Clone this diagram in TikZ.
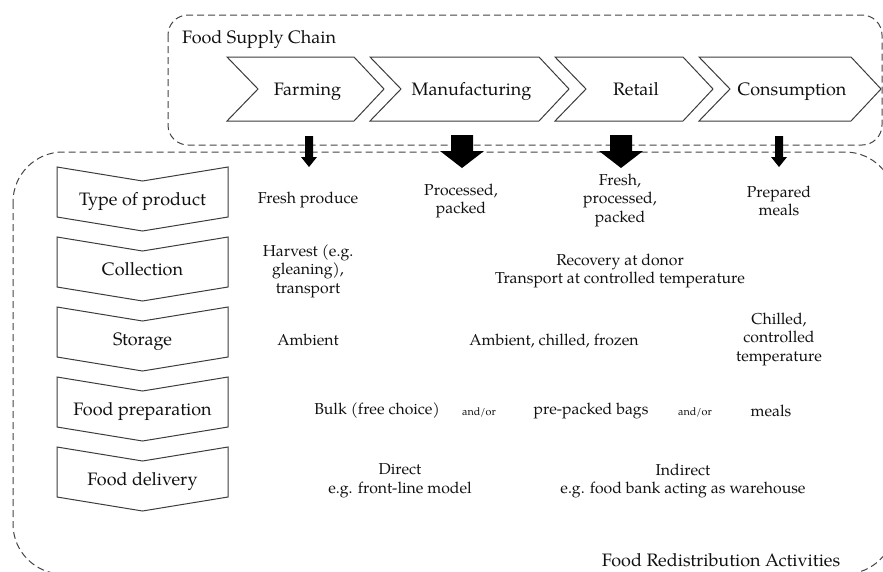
\documentclass[tikz,border=0pt]{standalone}
\usepackage{fontspec}
\setmainfont{texgyrepagella}[Extension=.otf,UprightFont=*-regular,BoldFont=*-bold,ItalicFont=*-italic,BoldItalicFont=*-bolditalic]
\definecolor{txt}{HTML}{111111}
\definecolor{lgray}{HTML}{3C3C3C}
\definecolor{dgray}{HTML}{444444}
\tikzset{
  lbl/.style={font=\fontsize{18}{19}\selectfont, align=center, text=txt, inner sep=0pt, text height=12.4pt, text depth=0pt},
  cell/.style={font=\fontsize{15.8}{18.5}\selectfont, align=center, text=txt, inner sep=0pt},
  tiny/.style={font=\fontsize{10.8}{12}\selectfont, text=txt, inner sep=0pt},
  chev/.style={draw=lgray, line width=1pt, fill=white, line join=miter},
  dbox/.style={draw=dgray, dash pattern=on 7pt off 4pt, line width=1pt},
  blk/.style={fill=black, draw=none}
}
\begin{document}
\begin{tikzpicture}[x=1pt,y=-1pt]
\useasboundingbox (0,0) rectangle (883,571);
% dashed frames
\draw[dbox, rounded corners=20pt] (168,15) rectangle (882,145);
\draw[dbox, rounded corners=50pt] (13,152) rectangle (895,574);
\node[lbl, anchor=west] (fsc) at (182,37) {Food Supply Chain};
% top chevrons
\foreach \L/\R/\n/\t in {227/354/farm/Farming, 370/539/manu/Manufacturing, 555/683/reta/Retail, 699/851/cons/Consumption}{
  \draw[chev] (\L,57) -- (\R,57) -- (\R+30,89) -- (\R,121) -- (\L,121) -- (\L+31,89) -- cycle;
  \node[lbl] (\n) at ({(\L+31+\R)/2+1.5},89) {\t};
}
% left chevrons
\foreach \T/\n/\t in {167/type/Type of product, 237/coll/Collection, 307/stor/Storage, 377/prep/Food preparation, 447/deli/Food delivery}{
  \draw[chev] (57,\T) -- (142.5,\T+14) -- (228,\T) -- (228,\T+50) -- (142.5,\T+64) -- (57,\T+50) -- cycle;
  \node[lbl] (\n) at (142.5,\T+32) {\t};
}
% block arrows
\foreach \x in {309,779}{
  \fill[blk] (\x-4,136) -- (\x+4,136) -- (\x+4,157) -- (\x+8,157) -- (\x,167) -- (\x-8,157) -- (\x-4,157) -- cycle;
}
\foreach \x in {462,621}{
  \fill[blk] (\x-11,135) -- (\x+11,135) -- (\x+11,151) -- (\x+22,151) -- (\x,168) -- (\x-22,151) -- (\x-11,151) -- cycle;
}
% row 1
\node[cell] (r1a) at (308,200) {Fresh produce};
\node[cell] (r1b) at (461,201) {Processed,\\packed};
\node[cell] (r1c) at (620,200) {Fresh,\\processed,\\packed};
\node[cell] (r1d) at (779,201) {Prepared\\meals};
% row 2
\node[cell] (r2a) at (308,271) {Harvest (e.g.\\gleaning),\\transport};
\node[cell] (r2b) at (620,271) {Recovery at donor\\Transport at controlled temperature};
% row 3
\node[cell] (r3a) at (308,340) {Ambient};
\node[cell] (r3b) at (554,341) {Ambient, chilled, frozen};
\node[cell] (r3c) at (779,339) {Chilled,\\controlled\\temperature};
% row 4
\node[cell] (r4a) at (377,411) {Bulk (free choice)};
\node[tiny] (r4o1) at (479,412) {and/or};
\node[cell] (r4b) at (591,411) {pre-packed bags};
\node[tiny] (r4o2) at (695,412) {and/or};
\node[cell] (r4c) at (771,411) {meals};
% row 5
\node[cell] (r5a) at (400,481) {Direct\\e.g. front-line model};
\node[cell] (r5b) at (683,481) {Indirect\\e.g. food bank acting as warehouse};
\node[lbl] (fra) at (721,560) {Food Redistribution Activities};
\end{tikzpicture}
\end{document}
